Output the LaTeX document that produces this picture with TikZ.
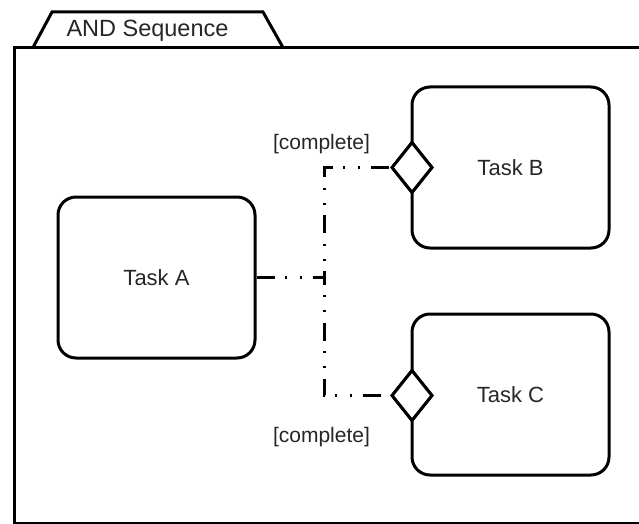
\documentclass[tikz,border=0pt]{standalone}
\usepackage{fontspec}
\setmainfont{Liberation Sans}
\usetikzlibrary{shapes.geometric}
\begin{document}
\begin{tikzpicture}[x=1pt,y=-1pt,
  task/.style={draw=black, line width=3pt, rounded corners=18pt,
    minimum width=197pt, minimum height=161pt, inner sep=0pt,
    font=\fontsize{22}{26}\selectfont, text=black!85},
  gate/.style={draw=black, line width=3pt, fill=white, diamond,
    minimum width=41pt, minimum height=51pt, inner sep=0pt},
  guard/.style={font=\fontsize{21}{25}\selectfont, text=black!85, anchor=base},
  flow/.style={line width=3pt,
    dash pattern=on 18pt off 10pt on 2pt off 13pt on 2pt off 11pt}]
  \useasboundingbox (0,0) rectangle (639,524);

  % package frame with its tab
  \draw[line width=3pt] (650,47.5) -- (14,47.5) -- (14,523.5) -- (650,523.5);
  \draw[line width=3pt, line join=miter] (33,47.5) -- (52,12) -- (263,12) -- (283,47.5);
  \node[font=\fontsize{23.5}{28}\selectfont, text=black!85, anchor=base]
    (title) at (147.5,36.7) {AND Sequence};

  % tasks
  \node[task] (A) at (156.5,277.5) {Task A};
  \node[task] (B) at (510.5,167.5) {Task B};
  \node[task] (C) at (510.5,394.5) {Task C};

  % fork point and flows
  \coordinate (j) at (324,277.5);
  \node[gate] (gB) at (412,167.5) {};
  \node[gate] (gC) at (412,395.5) {};
  \draw[flow] (A.east) -- (j);
  \draw[flow, dash phase=11pt] (j) |- (gB.west);
  \draw[flow, dash phase=11pt] (j) |- (gC.west);
  \node[gate] at (gB) {};
  \node[gate] at (gC) {};

  % guards
  \node[guard] (lB) at (321.5,149.5) {[complete]};
  \node[guard] (lC) at (321.5,442) {[complete]};
\end{tikzpicture}
\end{document}
